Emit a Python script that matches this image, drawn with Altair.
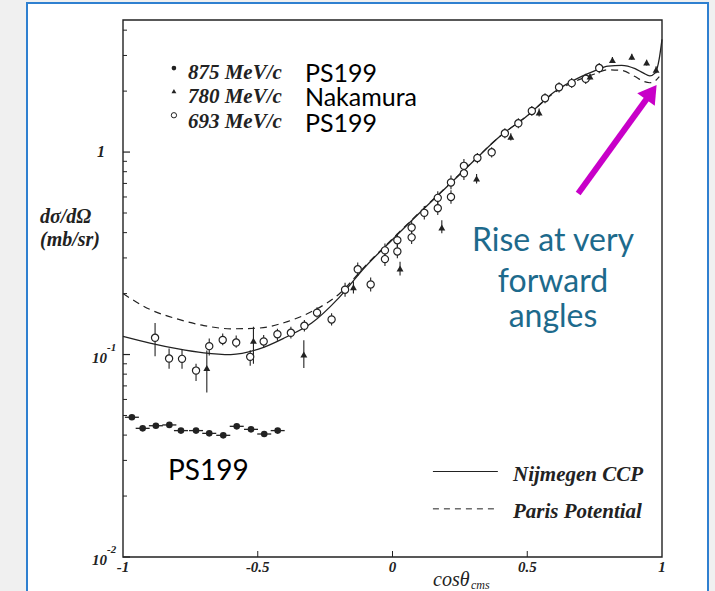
import altair as alt
import pandas as pd

# Plot area size in pixels (inside the axes frame)
PLOT_W, PLOT_H = 539, 537

# ---------------- data: cos(theta_cms) vs dsigma/dOmega (mb/sr) ----------------
# 693 MeV/c, PS199 (open circles)
cos_693 = [-0.881, -0.829, -0.781, -0.729, -0.680, -0.630, -0.580, -0.528, -0.478, -0.427,
           -0.377, -0.327, -0.280, -0.226, -0.176, -0.129, -0.081, -0.028, -0.028, 0.018,
           0.018, 0.071, 0.071, 0.118, 0.168, 0.168, 0.217, 0.217, 0.265, 0.265,
           0.315, 0.368, 0.417, 0.467, 0.517, 0.566, 0.618, 0.665, 0.717, 0.767]
xs_693 = [0.121, 0.0955, 0.0952, 0.0833, 0.110, 0.118, 0.1146, 0.0974, 0.116, 0.126,
          0.128, 0.1387, 0.161, 0.149, 0.209, 0.2636, 0.222, 0.327, 0.296, 0.367,
          0.323, 0.424, 0.379, 0.501, 0.594, 0.528, 0.708, 0.600, 0.855, 0.785,
          0.935, 0.997, 1.238, 1.387, 1.596, 1.845, 2.09, 2.19, 2.30, 2.60]
lo_693 = [0.098, 0.085, 0.085, 0.074, 0.099, 0.111, 0.108, 0.088, 0.108, 0.117,
          0.120, 0.130, 0.152, 0.139, 0.193, 0.244, 0.205, 0.302, 0.274, 0.340,
          0.299, 0.393, 0.351, 0.464, 0.550, 0.489, 0.656, 0.556, 0.792, 0.727,
          0.880, 0.940, 1.170, 1.310, 1.510, 1.740, 1.970, 2.070, 2.170, 2.450]
hi_693 = [0.143, 0.107, 0.106, 0.090, 0.120, 0.127, 0.124, 0.105, 0.125, 0.134,
          0.137, 0.148, 0.171, 0.160, 0.226, 0.285, 0.240, 0.353, 0.320, 0.396,
          0.349, 0.458, 0.409, 0.541, 0.641, 0.570, 0.765, 0.648, 0.923, 0.848,
          0.990, 1.055, 1.310, 1.470, 1.690, 1.950, 2.210, 2.320, 2.440, 2.750]

# 780 MeV/c, Nakamura (filled triangles)
cos_780 = [-0.689, -0.516, -0.329, -0.145, 0.028, 0.183, 0.312, 0.439, 0.544,
           0.733, 0.816, 0.888, 0.943, 0.978]
xs_780 = [0.0859, 0.117, 0.100, 0.215, 0.266, 0.424, 0.741, 1.19, 1.57,
          2.36, 2.85, 2.96, 2.77, 2.55]
lo_780 = [0.065, 0.090, 0.0858, 0.200, 0.246, 0.397, 0.700, 1.14, 1.50,
          2.28, 2.75, 2.86, 2.68, 2.45]
hi_780 = [0.1047, 0.137, 0.1176, 0.230, 0.287, 0.461, 0.780, 1.24, 1.64,
          2.44, 2.95, 3.06, 2.86, 2.65]

# 875 MeV/c, PS199 (filled circles with angular bin bars)
cos_875 = [-0.967, -0.927, -0.878, -0.828, -0.785, -0.729, -0.680, -0.628,
           -0.578, -0.525, -0.476, -0.426]
xs_875 = [0.049, 0.0432, 0.0445, 0.0449, 0.0421, 0.0421, 0.0408, 0.0399,
          0.0442, 0.0427, 0.0405, 0.0421]
BIN_HALF = 0.026

# model curves
cos_nij = [-1.0, -0.9, -0.8, -0.7, -0.6, -0.5, -0.4, -0.3, -0.2, -0.1, 0.0, 0.1, 0.2,
           0.3, 0.4, 0.5, 0.6, 0.7, 0.75, 0.8, 0.85, 0.9, 0.93, 0.955, 0.975, 0.99, 1.0]
nijmegen = [0.123, 0.114, 0.107, 0.102, 0.100, 0.106, 0.121, 0.143, 0.190, 0.272, 0.370,
            0.500, 0.670, 0.900, 1.200, 1.510, 1.980, 2.360, 2.520, 2.660, 2.680, 2.580,
            2.460, 2.380, 2.460, 2.900, 3.600]
cos_par = [-1.0, -0.9, -0.8, -0.7, -0.6, -0.5, -0.4, -0.3, -0.2, -0.1, 0.0, 0.1, 0.2,
           0.3, 0.4, 0.5, 0.6, 0.7, 0.75, 0.8, 0.85, 0.9, 0.93, 0.955, 0.975, 0.99]
paris = [0.200, 0.167, 0.150, 0.139, 0.134, 0.135, 0.144, 0.163, 0.198, 0.275, 0.373,
         0.503, 0.673, 0.903, 1.200, 1.510, 1.960, 2.300, 2.430, 2.550, 2.530, 2.360,
         2.240, 2.200, 2.250, 2.360]

# axis ticks and labels
xtick_vals = [-1, -0.5, 0, 0.5, 1]
xtick_text = ["-1", "-0.5", "0", "0.5", "1"]
ytick_major = [0.01, 0.1, 1.0]
ytick_minor = [0.02, 0.03, 0.04, 0.05, 0.06, 0.07, 0.08, 0.09,
               0.2, 0.3, 0.4, 0.5, 0.6, 0.7, 0.8, 0.9, 2, 3, 4]
ylab_pow = [0.01, 0.1]
ylab_exp = ["-2", "-1"]

# legend (top left) anchors in data coordinates
leg_energy = ["875 MeV/c", "780 MeV/c", "693 MeV/c"]
leg_source = ["PS199", "Nakamura", "PS199"]
leg_sym_y = [2.60, 2.00, 1.52]
leg_txt_y = [2.46, 1.87, 1.41]
leg_src_y = [2.43, 1.84, 1.37]
LEG_SYM_X, LEG_TXT_X, LEG_SRC_X = -0.811, -0.759, -0.325

# model legend (bottom right)
model_names = ["Nijmegen CCP", "Paris Potential"]
model_line_y = [0.02644, 0.01729]
model_text_y = [0.0255, 0.0166]
MODEL_X0, MODEL_X1, MODEL_TXT_X = 0.150, 0.391, 0.447

# annotations
note_lines = ["Rise at very", "forward", "angles"]
note_y = [0.364, 0.228, 0.153]
NOTE_X = 0.5955
arrow_tail = (0.689, 0.625)
arrow_neck = (0.950, 1.884)
arrow_tip = (0.980, 2.146)

INK = "#222222"
SERIF = "Liberation Serif"
SANS = "Lato"

X_SCALE = alt.Scale(domain=[-1, 1], nice=False, zero=False)
Y_SCALE = alt.Scale(type="log", domain=[0.01, 4.49], nice=False)


def X(f):
    return alt.X(f, type="quantitative", scale=X_SCALE, axis=None)


def Y(f):
    return alt.Y(f, type="quantitative", scale=Y_SCALE, axis=None)


one = pd.DataFrame({"k": [0]})
df693 = pd.DataFrame({"c": cos_693, "v": xs_693, "lo": lo_693, "hi": hi_693})
df780 = pd.DataFrame({"c": cos_780, "v": xs_780, "lo": lo_780, "hi": hi_780})
df875 = pd.DataFrame({"c": cos_875, "v": xs_875,
                      "c0": [c - BIN_HALF for c in cos_875],
                      "c1": [c + BIN_HALF for c in cos_875]})
dfnij = pd.DataFrame({"c": cos_nij, "v": nijmegen})
dfpar = pd.DataFrame({"c": cos_par, "v": paris})

layers = []

# white card with blue border behind the figure
layers.append(alt.Chart(one).mark_rect(fill="white", stroke="#2f80d0", strokeWidth=2).encode(
    x=alt.value(-96), x2=alt.value(585), y=alt.value(-17), y2=alt.value(PLOT_H + 80)))

# plot frame
layers.append(alt.Chart(one).mark_rect(fill=None, stroke=INK, strokeWidth=1.4).encode(
    x=alt.value(0), x2=alt.value(PLOT_W), y=alt.value(0), y2=alt.value(PLOT_H)))

# inward ticks
layers.append(alt.Chart(pd.DataFrame({"v": ytick_major})).mark_rule(color=INK, strokeWidth=1.2).encode(
    y=Y("v"), x=alt.value(0), x2=alt.value(7)))
layers.append(alt.Chart(pd.DataFrame({"v": ytick_minor})).mark_rule(color=INK, strokeWidth=1).encode(
    y=Y("v"), x=alt.value(0), x2=alt.value(4)))
layers.append(alt.Chart(pd.DataFrame({"c": xtick_vals[1:-1]})).mark_rule(color=INK, strokeWidth=1).encode(
    x=X("c"), y=alt.value(PLOT_H), y2=alt.value(PLOT_H - 6)))

# tick labels
layers.append(alt.Chart(pd.DataFrame({"c": xtick_vals, "t": xtick_text})).mark_text(
    font=SERIF, fontStyle="italic", fontWeight="bold", fontSize=15, color=INK, baseline="middle").encode(
    x=X("c"), y=alt.value(PLOT_H + 10), text="t:N"))
layers.append(alt.Chart(pd.DataFrame({"v": [1.0], "t": ["1"]})).mark_text(
    font=SERIF, fontStyle="italic", fontWeight="bold", fontSize=16, color=INK, align="right",
    baseline="middle").encode(y=Y("v"), x=alt.value(-18), text="t:N"))
layers.append(alt.Chart(pd.DataFrame({"v": ylab_pow, "t": ["10", "10"]})).mark_text(
    font=SERIF, fontStyle="italic", fontWeight="bold", fontSize=15, color=INK, align="right",
    baseline="middle", dy=3).encode(y=Y("v"), x=alt.value(-16), text="t:N"))
layers.append(alt.Chart(pd.DataFrame({"v": ylab_pow, "t": ylab_exp})).mark_text(
    font=SERIF, fontStyle="italic", fontWeight="bold", fontSize=11, color=INK, align="left",
    baseline="middle", dy=-7).encode(y=Y("v"), x=alt.value(-16), text="t:N"))

# axis titles
layers.append(alt.Chart(pd.DataFrame({"t": ["dσ/dΩ", "(mb/sr)"], "yy": [197, 220]})).mark_text(
    font=SERIF, fontStyle="italic", fontWeight="bold", fontSize=20, color=INK, align="left").encode(
    x=alt.value(-83), y=alt.Y("yy:Q", scale=None, axis=None), text="t:N"))
layers.append(alt.Chart(one).mark_text(
    font=SERIF, fontStyle="italic", fontSize=20, color=INK, align="left", text="cosθ").encode(
    x=alt.value(310), y=alt.value(PLOT_H + 23)))
layers.append(alt.Chart(one).mark_text(
    font=SERIF, fontStyle="italic", fontSize=12, color=INK, align="left", text="cms").encode(
    x=alt.value(348), y=alt.value(PLOT_H + 28)))

# model curves
layers.append(alt.Chart(dfpar).mark_line(color=INK, strokeWidth=1.2, strokeDash=[7, 5],
                                          interpolate="monotone").encode(x=X("c"), y=Y("v")))
layers.append(alt.Chart(dfnij).mark_line(color=INK, strokeWidth=1.3,
                                          interpolate="monotone").encode(x=X("c"), y=Y("v")))

# error bars
layers.append(alt.Chart(df693).mark_rule(color=INK, strokeWidth=1.1).encode(
    x=X("c"), y=Y("lo"), y2=alt.Y2("hi")))
layers.append(alt.Chart(df780).mark_rule(color=INK, strokeWidth=1.1).encode(
    x=X("c"), y=Y("lo"), y2=alt.Y2("hi")))
layers.append(alt.Chart(df875).mark_rule(color=INK, strokeWidth=1.3).encode(
    x=X("c0"), x2=alt.X2("c1"), y=Y("v")))

# data points
layers.append(alt.Chart(df693).mark_point(shape="circle", filled=True, fill="white", stroke=INK,
                                           strokeWidth=1.2, size=52, opacity=1).encode(x=X("c"), y=Y("v")))
layers.append(alt.Chart(df780).mark_point(shape="triangle-up", filled=True, color=INK, size=48,
                                           opacity=1).encode(x=X("c"), y=Y("v")))
layers.append(alt.Chart(df875).mark_point(shape="circle", filled=True, color=INK, size=44,
                                           opacity=1).encode(x=X("c"), y=Y("v")))

# top-left legend
dleg = pd.DataFrame({"e": leg_energy, "s": leg_source, "ys": leg_sym_y, "yt": leg_txt_y,
                     "yr": leg_src_y, "xs": [LEG_SYM_X] * 3, "xt": [LEG_TXT_X] * 3,
                     "xr": [LEG_SRC_X] * 3})
layers.append(alt.Chart(dleg.iloc[[0]]).mark_point(shape="circle", filled=True, color=INK, size=22,
                                                   opacity=1).encode(x=X("xs"), y=Y("ys")))
layers.append(alt.Chart(dleg.iloc[[1]]).mark_point(shape="triangle-up", filled=True, color=INK,
                                                   size=24, opacity=1).encode(x=X("xs"), y=Y("ys")))
layers.append(alt.Chart(dleg.iloc[[2]]).mark_point(shape="circle", filled=True, fill="white",
                                                   stroke=INK, strokeWidth=1, size=28,
                                                   opacity=1).encode(x=X("xs"), y=Y("ys")))
layers.append(alt.Chart(dleg).mark_text(font=SERIF, fontStyle="italic", fontWeight="bold",
                                        fontSize=21, color=INK, align="left").encode(
    x=X("xt"), y=Y("yt"), text="e:N"))
layers.append(alt.Chart(dleg).mark_text(font=SANS, fontSize=25, color="black", align="left").encode(
    x=X("xr"), y=Y("yr"), text="s:N"))

# lower PS199 label
layers.append(alt.Chart(pd.DataFrame({"c": [-0.833], "v": [0.0264], "t": ["PS199"]})).mark_text(
    font=SANS, fontSize=28, color="black", align="left").encode(x=X("c"), y=Y("v"), text="t:N"))

# model legend
dmod = pd.DataFrame({"n": model_names, "yl": model_line_y, "yt": model_text_y,
                     "x0": [MODEL_X0] * 2, "x1": [MODEL_X1] * 2, "xt": [MODEL_TXT_X] * 2})
layers.append(alt.Chart(dmod.iloc[[0]]).mark_rule(color=INK, strokeWidth=1).encode(
    x=X("x0"), x2=alt.X2("x1"), y=Y("yl")))
layers.append(alt.Chart(dmod.iloc[[1]]).mark_rule(color=INK, strokeWidth=1, strokeDash=[6, 5]).encode(
    x=X("x0"), x2=alt.X2("x1"), y=Y("yl")))
layers.append(alt.Chart(dmod).mark_text(font=SERIF, fontStyle="italic", fontWeight="bold",
                                        fontSize=21, color=INK, align="left").encode(
    x=X("xt"), y=Y("yt"), text="n:N"))

# annotation text and arrow
layers.append(alt.Chart(pd.DataFrame({"t": note_lines, "v": note_y, "c": [NOTE_X] * 3})).mark_text(
    font=SANS, fontSize=32, color="#1d6a8c", align="center").encode(x=X("c"), y=Y("v"), text="t:N"))
darrow = pd.DataFrame({"c": [arrow_tail[0]], "v": [arrow_tail[1]],
                       "c2": [arrow_neck[0]], "v2": [arrow_neck[1]]})
layers.append(alt.Chart(darrow).mark_rule(color="#c800c8", strokeWidth=6).encode(
    x=X("c"), y=Y("v"), x2=alt.X2("c2"), y2=alt.Y2("v2")))
layers.append(alt.Chart(pd.DataFrame({"c": [arrow_tip[0]], "v": [arrow_tip[1]]})).mark_point(
    shape="M0,0L0.6,1L-0.6,1Z", filled=True, color="#c800c8", size=1300, angle=36, opacity=1).encode(
    x=X("c"), y=Y("v")))

chart = alt.layer(*layers).properties(
    width=PLOT_W, height=PLOT_H,
    padding={"left": 123, "top": 20, "right": 53, "bottom": 34},
    autosize=alt.AutoSizeParams(type="none"),
).configure(background="#f0f0f0").configure_view(stroke=None)

chart.save("out.html", embed_options={"renderer": "svg", "actions": False})
